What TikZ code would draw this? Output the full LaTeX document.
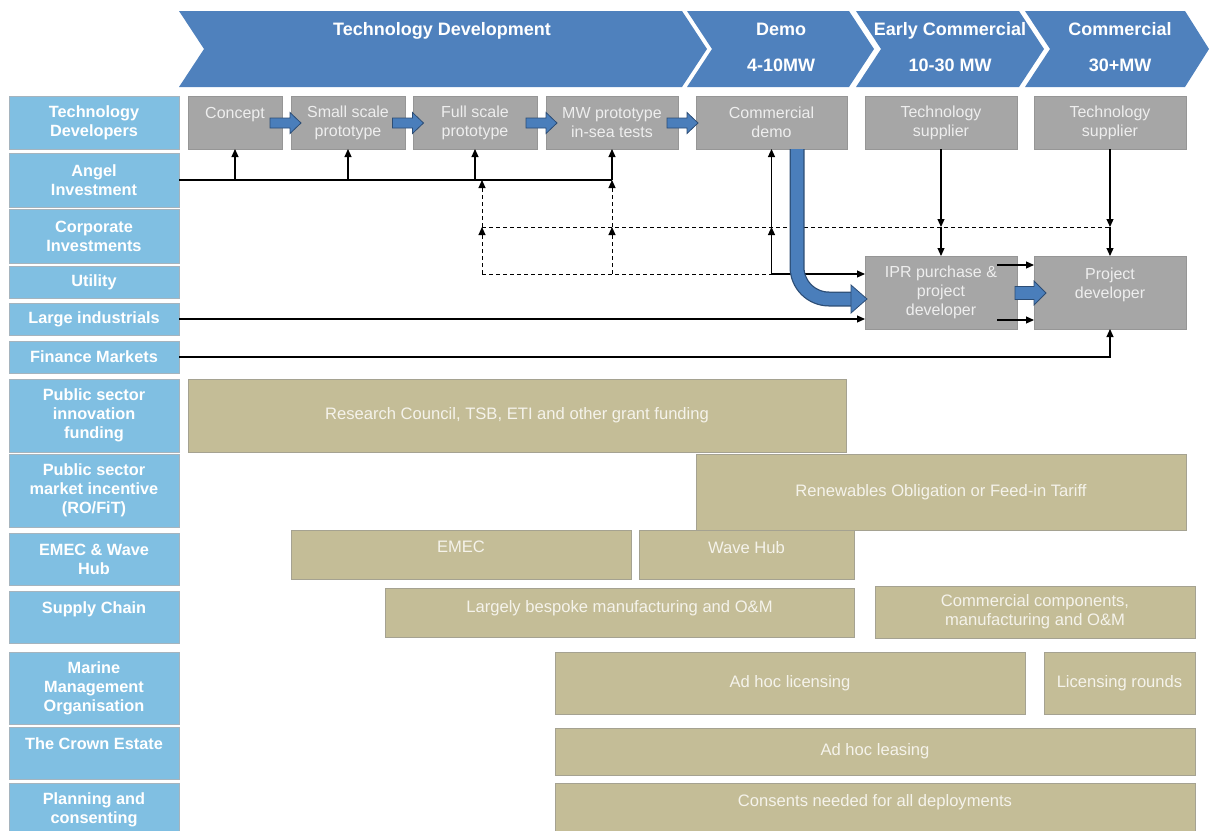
\documentclass[tikz,border=0pt]{standalone}
\usepackage{fontspec}
\setmainfont{Liberation Sans}
\usetikzlibrary{arrows.meta,calc}

\definecolor{chev}{RGB}{79,129,189}
\definecolor{lblue}{RGB}{128,191,226}
\definecolor{lblueedge}{RGB}{165,180,190}
\definecolor{stage}{RGB}{166,166,166}
\definecolor{stageedge}{RGB}{150,150,150}
\definecolor{stagetext}{RGB}{238,238,238}
\definecolor{fundtan}{RGB}{196,189,151}
\definecolor{fundedge}{RGB}{165,162,145}
\definecolor{fundtext}{RGB}{245,243,235}
\definecolor{barblue}{RGB}{74,126,187}
\definecolor{bardark}{RGB}{44,77,117}

\tikzset{
  box/.style 2 args={minimum width=#1, minimum height=#2},
  lbl/.style={draw=lblueedge, fill=lblue, line width=0.8pt, text=white,
    font=\fontsize{16.3}{19}\selectfont\bfseries, align=center, inner sep=0pt, outer sep=0pt},
  stg/.style={draw=stageedge, fill=stage, line width=0.6pt, text=stagetext,
    font=\fontsize{16}{19}\selectfont, align=center, inner sep=0pt, outer sep=0pt},
  fund/.style={draw=fundedge, fill=fundtan, line width=0.8pt, text=fundtext,
    font=\fontsize{16.6}{19}\selectfont, align=center, inner sep=0pt, outer sep=0pt},
  phase/.style={text=white, font=\fontsize{18}{20}\selectfont\bfseries, anchor=base},
  ln/.style={line width=1.1pt},
  arr/.style={line width=1.1pt, -{Triangle[length=8pt,width=7pt]}},
  dsh/.style={line width=1pt, dash pattern=on 4pt off 3pt},
  barr/.style={fill=barblue, draw=bardark, line width=0.8pt, line join=miter},
}

% block arrow: centre, half length, shaft half height, head half height, head length
\newcommand\blkarrow[5]{%
  \draw[barr] ($(#1)+(-#2,-#3)$) -- ($(#1)+(#2-#5,-#3)$) -- ($(#1)+(#2-#5,-#4)$)
    -- ($(#1)+(#2,0)$) -- ($(#1)+(#2-#5,#4)$) -- ($(#1)+(#2-#5,#3)$)
    -- ($(#1)+(-#2,#3)$) -- cycle;}

\begin{document}
\begin{tikzpicture}[x=1pt,y=-1pt]
\useasboundingbox (0,0) rectangle (1210,830);

% ---- phase chevrons ----
\fill[chev] (179,11) -- (682,11) -- (707,49) -- (682,87) -- (179,87) -- (204,49) -- cycle;
\fill[chev] (687,11) -- (849,11) -- (874,49) -- (849,87) -- (687,87) -- (712,49) -- cycle;
\fill[chev] (856,11) -- (1019,11) -- (1044,49) -- (1019,87) -- (856,87) -- (881,49) -- cycle;
\fill[chev] (1025,11) -- (1185,11) -- (1209,49) -- (1185,87) -- (1025,87) -- (1050,49) -- cycle;
\node[phase] (ph1) at (442,35.5) {Technology Development};
\node[phase] (ph2) at (781,35.5) {Demo};
\node[phase] (ph2b) at (781,71.5) {4-10MW};
\node[phase] (ph3) at (950,35.5) {Early Commercial};
\node[phase] (ph3b) at (950,71.5) {10-30 MW};
\node[phase] (ph4) at (1120,35.5) {Commercial};
\node[phase] (ph4b) at (1120,71.5) {30+MW};

% ---- actor labels ----
\node[lbl,box={170pt}{53pt}] (tdv) at (94,122.5) {Technology\\Developers};
\node[lbl,box={170pt}{54pt}] (ang) at (94,180) {Angel\\Investment};
\node[lbl,box={170pt}{54pt}] (cor) at (94,236) {Corporate\\Investments};
\node[lbl,box={170pt}{32pt}] (uti) at (94,282) {Utility};
\node[lbl,box={170pt}{32pt}] (lin) at (94,319) {Large industrials};
\node[lbl,box={170pt}{32pt}] (fin) at (94,357) {Finance Markets};
\node[lbl,box={170pt}{73pt}] (psi) at (94,415.5) {Public sector\\innovation\\funding};
\node[lbl,box={170pt}{73pt}] (psm) at (94,490.5) {Public sector\\market incentive\\(RO/FiT)};
\node[lbl,box={170pt}{52pt}] (emw) at (94,559) {EMEC \& Wave\\Hub};
\node[lbl,box={170pt}{52pt}] (sch) at (94,617) {Supply Chain\\\mbox{}};
\node[lbl,box={170pt}{72pt}] (mmo) at (94,688) {Marine\\Management\\Organisation};
\node[lbl,box={170pt}{52pt}] (tce) at (94,753) {The Crown Estate\\\mbox{}};
\node[lbl,box={170pt}{53pt}] (pac) at (94,809.5) {Planning and\\consenting};

% ---- development stages ----
\node[stg,box={94pt}{53pt}]  (con) at (235,122.5) {Concept\\\mbox{}};
\node[stg,box={114pt}{53pt}] (ssp) at (348,122.5) {Small scale\\prototype};
\node[stg,box={124pt}{53pt}] (fsp) at (475,122.5) {Full scale\\prototype};
\node[stg,box={132pt}{53pt}] (mwp) at (612,122.5) {MW prototype\\in-sea tests};
\node[stg,box={151pt}{53pt}] (cdm) at (771.5,122.5) {Commercial\\demo};
\node[stg,box={152pt}{53pt}] (ts1) at (941,122.5) {Technology\\supplier};
\node[stg,box={152pt}{53pt}] (ts2) at (1110,122.5) {Technology\\supplier};
\node[stg,box={152pt}{73pt}] (ipr) at (941,292.5) {IPR purchase \&\\project\\developer};
\node[stg,box={152pt}{73pt}] (pdv) at (1110,292.5) {Project\\developer\\\mbox{}};

% ---- funding and support ----
\node[fund,box={658pt}{73pt}] (rcf) at (517,415.5) {Research Council, TSB, ETI and other grant funding};
\node[fund,box={490pt}{76pt}] (rof) at (941,492) {Renewables Obligation or Feed-in Tariff};
\node[fund,box={340pt}{49pt}] (emc) at (461,554.5) {EMEC\\[-4pt]\mbox{}};
\node[fund,box={215pt}{49pt}] (wvh) at (746.5,554.5) {Wave Hub\\[-4pt]\mbox{}};
\node[fund,box={469pt}{49pt}] (lbm) at (619.5,612.5) {Largely bespoke manufacturing and O\&M\\[-6pt]\mbox{}};
\node[fund,box={320pt}{52pt}] (ccm) at (1035,612) {Commercial components,\\manufacturing and O\&M};
\node[fund,box={470pt}{62pt}] (ahl) at (790,683) {Ad hoc licensing};
\node[fund,box={151pt}{62pt}] (lro) at (1119.5,683) {Licensing rounds};
\node[fund,box={640pt}{47pt}] (ahs) at (875,751.5) {Ad hoc leasing};
\node[fund,box={640pt}{53pt}] (cnd) at (875,809.5) {Consents needed for all deployments\\\mbox{}};

% ---- helper points on the funding lines ----
\coordinate (a1) at (con.south |- ang.east);
\coordinate (a2) at (ssp.south |- ang.east);
\coordinate (a3) at (fsp.south |- ang.east);
\coordinate (a4) at (mwp.south |- ang.east);
\coordinate (f1) at (482,180);
\coordinate (e1) at (482,227);
\coordinate (e2) at (mwp.south |- e1);
\coordinate (e3) at (cdm.south |- e1);
\coordinate (e4) at (pdv.north |- e1);
\coordinate (e5) at (ipr.north |- e1);
\coordinate (d1) at (482,274);
\coordinate (d2) at (mwp.south |- d1);
\coordinate (d3) at (cdm.south |- d1);
\coordinate (g1) at (997,265);
\coordinate (g2) at (997,320);

% angel investment
\draw[ln] (ang.east) -- (a4);
\draw[arr] (a1) -- (con.south);
\draw[arr] (a2) -- (ssp.south);
\draw[arr] (a3) -- (fsp.south);
\draw[arr] (a4) -- (mwp.south);

% corporate / utility investment (dashed)
\draw[dsh] (d1) -- (d3);
\draw[dsh] (e1) -- (e4);
\draw[dsh,-{Triangle[length=8pt,width=7pt]}] (d1) -- (e1);
\draw[dsh,-{Triangle[length=8pt,width=7pt]}] (e1) -- (f1);
\draw[dsh,-{Triangle[length=8pt,width=7pt]}] (d2) -- (e2);
\draw[dsh,-{Triangle[length=8pt,width=7pt]}] (e2) -- (a4);

% utility into commercial demo and IPR purchase
\draw[arr] (d3) -- (e3);
\draw[arr] (e3) -- (cdm.south);
\draw[arr] (d3) -- (ipr.west |- d3);

% large industrials and finance markets
\draw[arr] (lin.east) -- (ipr.west |- lin.east);
\draw[arr] (fin.east) -- (pdv.south |- fin.east) -- (pdv.south);

% technology suppliers
\draw[arr] (ts1.south) -- (e5);
\draw[arr] (e5) -- (ipr.north);
\draw[arr] (ts2.south) -- (e4);
\draw[arr] (e4) -- (pdv.north);

% IPR purchase to project developer
\draw[arr] (g1) -- (g1 -| pdv.west);
\draw[arr] (g2) -- (g2 -| pdv.west);

% ---- block arrows along the development path ----
\coordinate (m1) at ($(con.east)!0.5!(ssp.west)+(-1,0.5)$);
\coordinate (m2) at ($(ssp.east)!0.5!(fsp.west)+(-1,0.5)$);
\coordinate (m3) at ($(fsp.east)!0.5!(mwp.west)+(0,0.5)$);
\coordinate (m4) at ($(mwp.east)!0.5!(cdm.west)+(-4.5,0.5)$);
\coordinate (m5) at ($(ipr.east)!0.5!(pdv.west)+(5,0.5)$);
\blkarrow{m1}{15.5}{5}{10.5}{11}
\blkarrow{m2}{15.5}{5}{10.5}{11}
\blkarrow{m3}{15.5}{5}{10.5}{11}
\blkarrow{m4}{15.5}{5}{10.5}{11}
\blkarrow{m5}{15.5}{6.5}{12}{12}

% commercial demo bends down into IPR purchase
\coordinate (cv0) at ($(cdm.south)+(25.5,0)$);
\coordinate (cv1) at ($(cdm.south)+(25.5,118)$);
\coordinate (cv2) at ($(ipr.west)+(-14,6.5)$);
\coordinate (cv3) at ($(ipr.west)+(2,6.5)$);
\draw[bardark, line width=15pt] (cv0) -- (cv1) arc[start angle=180, end angle=90, radius=32] -- (cv2);
\draw[barblue, line width=12.5pt] (cv0) -- (cv1) arc[start angle=180, end angle=90, radius=32] -- (cv2);
\draw[barr] ($(cv2)+(0,-14)$) -- (cv3) -- ($(cv2)+(0,14)$) -- cycle;
\end{tikzpicture}
\end{document}
